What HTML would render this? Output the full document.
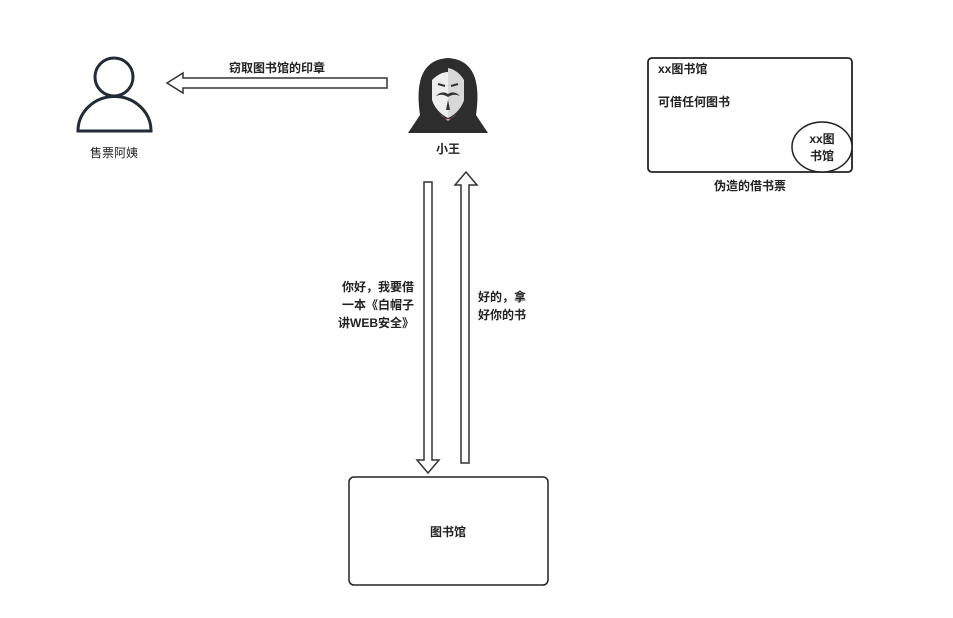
<!DOCTYPE html>
<html><head><meta charset="utf-8"><style>
body{margin:0;background:#fff;}
svg text{font-family:"Liberation Sans","Noto Sans CJK SC",sans-serif;font-size:12px;fill:#222;font-weight:bold;}
</style></head><body>
<svg width="953" height="613" viewBox="0 0 953 613" xmlns="http://www.w3.org/2000/svg">
<!-- person -->
<g fill="none" stroke="#232b36" stroke-width="3">
<circle cx="114" cy="77" r="19"/>
<path d="M78 131 A36 34 0 0 1 151 131 Z"/>
</g>
<text x="114" y="157" text-anchor="middle" fill="#555" style="font-weight:normal">售票阿姨</text>
<!-- left arrow -->
<path d="M387 78 L183 78 L183 73 L167 83 L183 93 L183 88 L387 88 Z" fill="#fff" stroke="#333" stroke-width="1.5"/>
<text x="277" y="72" text-anchor="middle">窃取图书馆的印章</text>
<!-- hacker -->
<path d="M408 133 L420 115 Q412 60 448 58 Q484 60 476 115 L488 133 Z" fill="#2d2d2d"/>
<path d="M432 80 Q448 64 464 80 L464 100 Q460 112 448 118 Q436 112 432 100 Z" fill="#eee"/>
<path d="M448 68 Q458 70 464 80 L464 100 Q460 112 448 118 Z" fill="#d8d8d8"/>
<path d="M440 114 Q448 124 456 114 L448 121 Z" fill="#e8a0a0"/>
<path d="M436 96 Q442 90 448 94 Q454 90 460 96 Q454 93 448 97 Q442 93 436 96 Z" fill="#333"/>
<path d="M438 84 L445 86 M451 86 L458 84" stroke="#333" stroke-width="2"/>
<path d="M448 100 L446 110 L450 110 Z" fill="#333"/>
<text x="448" y="153" text-anchor="middle">小王</text>
<!-- down arrow -->
<path d="M424 182 L432 182 L432 460 L439 460 L428 473 L417 460 L424 460 Z" fill="#fff" stroke="#333" stroke-width="1.5"/>
<!-- up arrow -->
<path d="M461 463 L469 463 L469 185 L477 185 L466 172 L455 185 L461 185 Z" fill="#fff" stroke="#333" stroke-width="1.5"/>
<text x="414" y="291" text-anchor="end">你好，我要借</text>
<text x="414" y="309" text-anchor="end">一本《白帽子</text>
<text x="414" y="327" text-anchor="end">讲WEB安全》</text>
<text x="478" y="301">好的，拿</text>
<text x="478" y="319">好你的书</text>
<!-- library -->
<rect x="349" y="477" width="199" height="108" rx="5" fill="#fff" stroke="#222" stroke-width="1.5"/>
<text x="448" y="536" text-anchor="middle">图书馆</text>
<!-- card -->
<rect x="648" y="58" width="204" height="114" rx="4" fill="#fff" stroke="#222" stroke-width="1.8"/>
<text x="658" y="73">xx图书馆</text>
<text x="658" y="106">可借任何图书</text>
<ellipse cx="822" cy="147" rx="30" ry="25" fill="#fff" stroke="#222" stroke-width="1.5"/>
<text x="822" y="143" text-anchor="middle">xx图</text>
<text x="822" y="160" text-anchor="middle">书馆</text>
<text x="750" y="190" text-anchor="middle">伪造的借书票</text>
</svg>
</body></html>
